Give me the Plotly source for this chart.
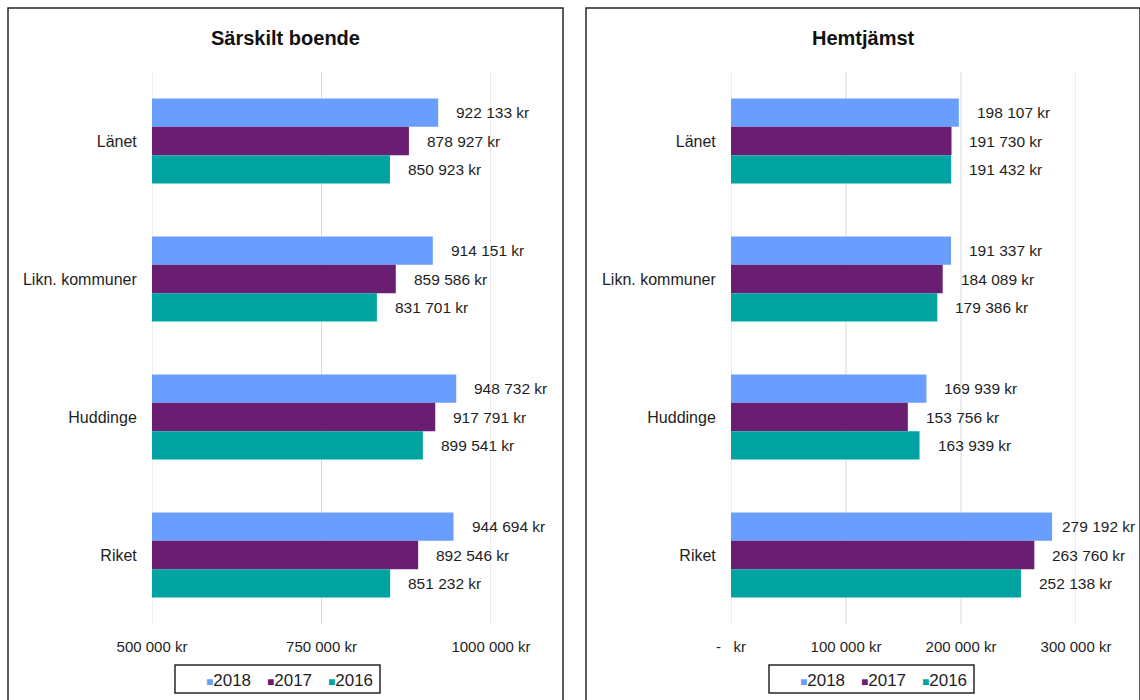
import plotly.graph_objects as go

# Kostnad per brukare, kronor
categories = ["Länet", "Likn. kommuner", "Huddinge", "Riket"]
years = ["2018", "2017", "2016"]

boende = {
    "2018": [922133, 914151, 948732, 944694],
    "2017": [878927, 859586, 917791, 892546],
    "2016": [850923, 831701, 899541, 851232],
}
hemtjanst = {
    "2018": [198107, 191337, 169939, 279192],
    "2017": [191730, 184089, 153756, 263760],
    "2016": [191432, 179386, 163939, 252138],
}

boende_ticks = [500000, 750000, 1000000]
boende_ticktext = ["500 000 kr", "750 000 kr", "1000 000 kr"]
hemtj_ticks = [0, 100000, 200000, 300000]
hemtj_ticktext = ["-   kr", "100 000 kr", "200 000 kr", "300 000 kr"]

colors = {"2018": "#699EFF", "2017": "#6A1E72", "2016": "#00A39F"}

W, H = 1140, 700
FONT = "Liberation Sans, Arial, sans-serif"
TXT = "#1E1E1E"
GRID = "#D9D9D9"
LABEL_SIZE = 15.5


def px_x(p):
    return p / W


def px_y(p):
    return 1 - p / H


def kr(v):
    return f"{v:,}".replace(",", " ") + " kr"


def text_width(s, size):
    # rough Arial advance widths
    w = 0.0
    for ch in s:
        if ch.isdigit():
            w += 0.556
        elif ch == " ":
            w += 0.278
        elif ch == "k":
            w += 0.5
        elif ch == "r":
            w += 0.333
        else:
            w += 0.55
    return w * size


fig = go.Figure()
ypos = list(range(len(categories)))

# (data, x axis, y axis, ticks, pixel span of plot area, range, right limit for labels)
panels = [
    (boende, "x", "y", boende_ticks, (152, 491), (500000, 1000000), 556),
    (hemtjanst, "x2", "y2", hemtj_ticks, (731, 1076), (0, 300000), 1133),
]

# gridlines drawn as shapes so the ones at the range ends are kept too
for _, xa, ya, ticks, *_ in panels:
    for t in ticks:
        fig.add_shape(type="line", xref=xa, yref=ya + " domain", x0=t, x1=t, y0=0, y1=1,
                      line=dict(color=GRID, width=1), layer="below")

for data, xa, ya, *_ in panels:
    for yr in years:
        fig.add_trace(go.Bar(
            y=ypos, x=data[yr], orientation="h", name=yr,
            marker=dict(color=colors[yr], line=dict(width=0)),
            xaxis=xa, yaxis=ya, showlegend=False,
            customdata=categories, hovertemplate="%{customdata}: %{x}<extra>" + yr + "</extra>",
        ))

# value labels to the right of each bar, pulled in where they would leave the panel
for data, xa, ya, _, (p0, p1), (r0, r1), edge in panels:
    scale = (p1 - p0) / (r1 - r0)
    for i, yr in enumerate(years):
        for j in ypos:
            v = data[yr][j]
            label = kr(v)
            end_px = p0 + (v - r0) * scale
            shift = min(16, edge - end_px - text_width(label, LABEL_SIZE))
            fig.add_annotation(
                x=v, y=j + (i - 1) * 0.205, xref=xa, yref=ya,
                text=label, showarrow=False, xanchor="left", xshift=shift,
                font=dict(family=FONT, size=LABEL_SIZE, color=TXT),
            )

ydom = [px_y(624), px_y(72)]
axis_common = dict(
    showgrid=False, zeroline=False,
    showline=False, ticks="outside", ticklen=9, tickcolor="rgba(0,0,0,0)",
    tickfont=dict(family=FONT, size=15, color=TXT), automargin=False,
)
yaxis_common = dict(
    type="linear", autorange=False, range=[len(categories) - 0.5, -0.5],
    tickvals=ypos, ticktext=categories,
    showgrid=False, zeroline=False, showline=False,
    ticks="outside", ticklen=11, tickcolor="rgba(0,0,0,0)",
    tickfont=dict(family=FONT, size=16, color=TXT),
    domain=ydom, automargin=False,
)

fig.update_layout(
    width=W, height=H,
    margin=dict(l=0, r=0, t=0, b=0, autoexpand=False),
    paper_bgcolor="white", plot_bgcolor="white",
    barmode="group", bargap=0.385, bargroupgap=0,
    font=dict(family=FONT, size=15, color=TXT),
    showlegend=False,
    xaxis=dict(domain=[px_x(152), px_x(491)], range=[500000, 1000000],
               tickvals=boende_ticks, ticktext=boende_ticktext,
               anchor="y", **axis_common),
    xaxis2=dict(domain=[px_x(731), px_x(1076)], range=[0, 300000],
                tickvals=hemtj_ticks, ticktext=hemtj_ticktext,
                anchor="y2", **axis_common),
    yaxis=dict(anchor="x", **yaxis_common),
    yaxis2=dict(anchor="x2", **yaxis_common),
    hovermode="closest",
)

# panel titles
for cx, title in [((8 + 563) / 2, "Särskilt boende"), ((586 + 1140) / 2, "Hemtjämst")]:
    fig.add_annotation(
        x=px_x(cx), y=px_y(38), xref="paper", yref="paper",
        text=f"<b>{title}</b>", showarrow=False, xanchor="center", yanchor="middle",
        font=dict(family=FONT, size=20, color="#111111"),
    )

# legend boxes under each panel
for left in (175, 769):
    fig.add_shape(
        type="rect", xref="paper", yref="paper",
        x0=px_x(left), x1=px_x(left + 205), y0=px_y(693), y1=px_y(665),
        line=dict(color="#262626", width=1.5), fillcolor="white",
    )
    for k, yr in enumerate(years):
        fig.add_annotation(
            x=px_x(left + 29 + 61 * k), y=px_y(680), xref="paper", yref="paper",
            text=f'<span style="color:{colors[yr]};font-size:12px">■</span>{yr}',
            showarrow=False, xanchor="left", yanchor="middle",
            font=dict(family=FONT, size=17, color=TXT),
        )

# panel frames
for x0, x1 in [(8, 563), (586, 1140)]:
    fig.add_shape(
        type="rect", xref="paper", yref="paper",
        x0=px_x(x0), x1=px_x(x1), y0=px_y(710), y1=px_y(8),
        line=dict(color="#262626", width=1.5), fillcolor="rgba(0,0,0,0)", layer="below",
    )

fig.write_html("out.html")
